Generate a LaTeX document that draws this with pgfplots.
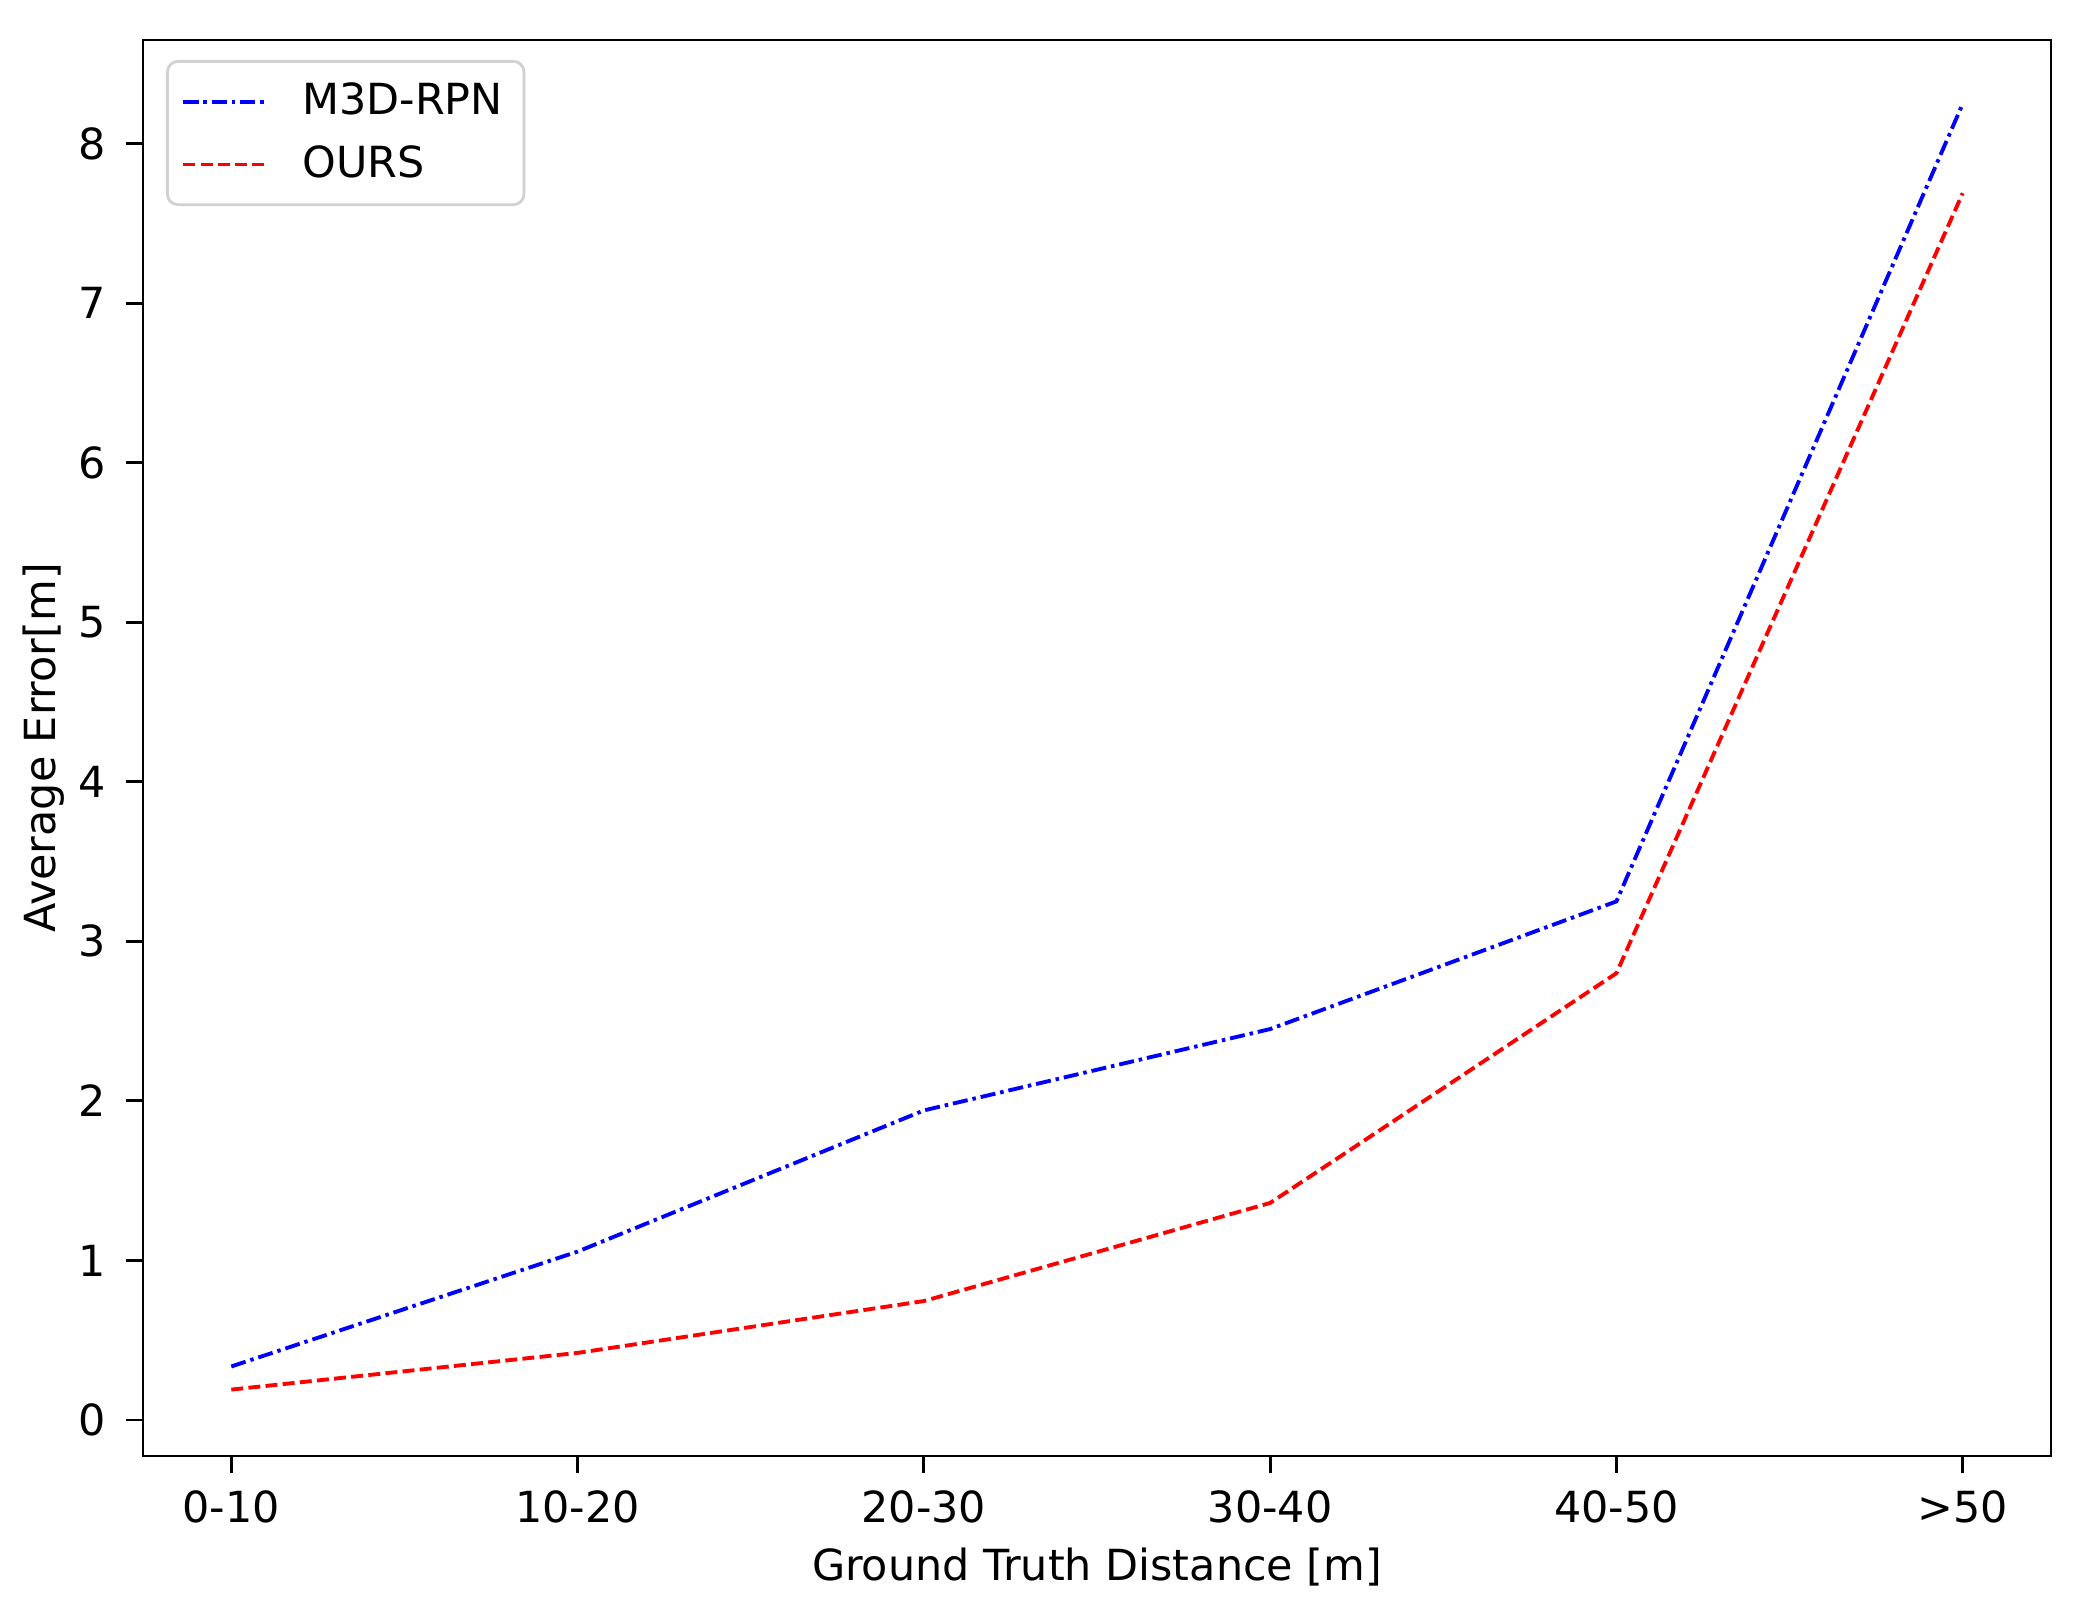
\documentclass[border=0pt]{standalone}
\usepackage{pgfplots}
\pgfplotsset{compat=1.18}
\usepackage{fontspec}
\setmainfont{DejaVu Sans}
\begin{document}
\fontsize{12.2}{14.5}\selectfont
\begin{tikzpicture}
\begin{axis}[
  name=ax,
  width=19.08cm, height=14.16cm, scale only axis,
  xmin=-0.255, xmax=5.255, ymin=-0.226, ymax=8.65,
  xtick={0,1,2,3,4,5},
  xticklabels={0-10,10-20,20-30,30-40,40-50,>50},
  ytick={0,1,2,3,4,5,6,7,8},
  /pgf/number format/assume math mode=true,
  tick align=outside, tick pos=left,
  major tick length=0.17cm,
  every tick/.style={black, line width=0.8pt},
  axis line style={line width=0.8pt},
  xticklabel style={yshift=-0.03cm},
  yticklabel style={xshift=-0.05cm},
  xlabel={Ground Truth Distance [m]},
  ylabel={Average Error[m]},
  xlabel style={yshift=0.05cm},
  ylabel style={yshift=-0.15cm},
  legend style={at={(0,1)}, xshift=0.23cm, yshift=-0.2cm, anchor=north west,
    draw=black!18, line width=0.8pt, rounded corners=3pt, fill=white,
    inner xsep=4pt, inner ysep=4pt, row sep=3pt,
    font=\fontsize{12.2}{14.5}\selectfont},
  legend cell align=left,
  legend image code/.code={\draw[#1] (0cm,0cm) -- (0.84cm,0cm); \path[draw=none] (0.84cm,0cm) -- (1.12cm,0cm);},
]
\addplot[blue, line width=1.1pt, dash pattern=on 4.3pt off 1.4pt on 1pt off 1.4pt]
  coordinates {(0,0.335) (1,1.055) (2,1.94) (3,2.45) (4,3.25) (5,8.25)};
\addlegendentry{M3D-RPN}
\addplot[red, line width=1.1pt, dash pattern=on 3.4pt off 1.5pt]
  coordinates {(0,0.19) (1,0.42) (2,0.745) (3,1.36) (4,2.8) (5,7.69)};
\addlegendentry{OURS}
\end{axis}
\path ([shift={(-1.43cm,-1.44cm)}]ax.south west) rectangle ([shift={(0.44cm,0.40cm)}]ax.north east);
\end{tikzpicture}
\end{document}
